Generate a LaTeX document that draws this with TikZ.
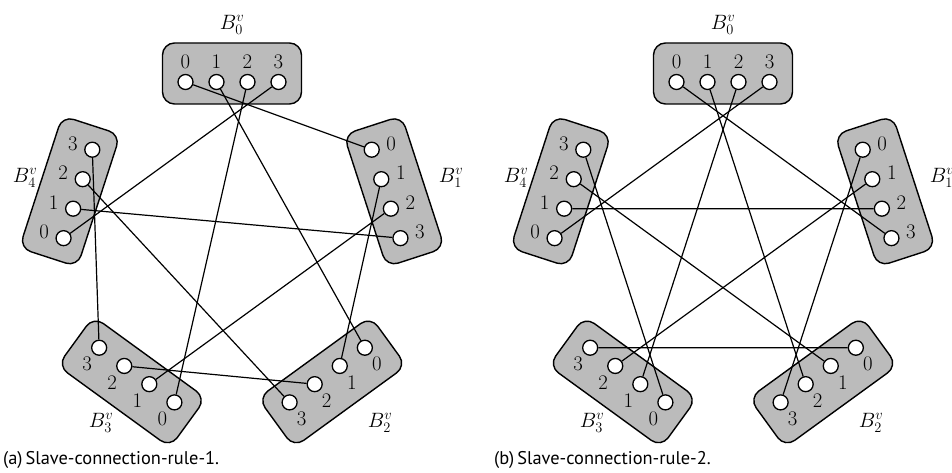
\documentclass[tikz,border=0pt]{standalone}
\usepackage{fontspec}
\newfontfamily\capfont{PT Sans}
\definecolor{boxgray}{RGB}{187,187,187}
\begin{document}
\begin{tikzpicture}[x=1pt,y=1pt,
  box/.style={draw, line width=1.4pt, fill=boxgray, rounded corners=12pt,
    minimum width=139pt, minimum height=61pt, inner sep=0pt},
  port/.style={circle, draw, line width=1.3pt, fill=white, minimum size=15pt, inner sep=0pt},
  plabel/.style={font=\fontsize{22.5}{26}\selectfont, inner sep=0pt},
  glabel/.style={font=\fontsize{22.5}{26}\selectfont, inner sep=0pt},
  link/.style={line width=1.2pt},
  captext/.style={font=\capfont\fontsize{18.4}{22}\selectfont, anchor=west, inner sep=0pt}]
\useasboundingbox (0,0) rectangle (952,473);
\foreach \p/\cx in {a/232,b/723}{
  \foreach \i in {0,...,4}{
    \begin{scope}[rotate around={-72*\i:(\cx,229)}]
      \node[box, rotate=-72*\i] (\p box\i) at (\cx,399.5) {};
      \foreach \j in {0,...,3}{
        \node[port] (\p\i\j) at ({\cx-46.5+31*\j},391) {};
        \node[plabel] (\p l\i\j) at ({\cx-46.5+31*\j},411.5) {$\j$};
      }
    \end{scope}
  }
}
% group labels
\foreach \p/\dx in {a/0,b/491}{
  \node[glabel] (\p g0) at ({232+\dx},448) {$B_0^v$};
  \node[glabel] (\p g1) at ({451+\dx},295) {$B_1^v$};
  \node[glabel] (\p g2) at ({380+\dx},50) {$B_2^v$};
  \node[glabel] (\p g3) at ({101+\dx},50) {$B_3^v$};
  \node[glabel] (\p g4) at ({25+\dx},295) {$B_4^v$};
}
% rule 1
\foreach \s/\t in {00/10,01/20,02/30,03/40,11/21,12/31,13/41,22/32,23/42,33/43}
  \draw[link] (a\s) -- (a\t);
% rule 2
\foreach \s/\t in {00/13,01/22,02/31,03/40,10/23,11/32,12/41,20/33,21/42,30/43}
  \draw[link] (b\s) -- (b\t);
\node[captext] (capa) at (3,13) {(a)\,Slave-connection-rule-1.};
\node[captext] (capb) at (494,13) {(b)\,Slave-connection-rule-2.};
\end{tikzpicture}
\end{document}
